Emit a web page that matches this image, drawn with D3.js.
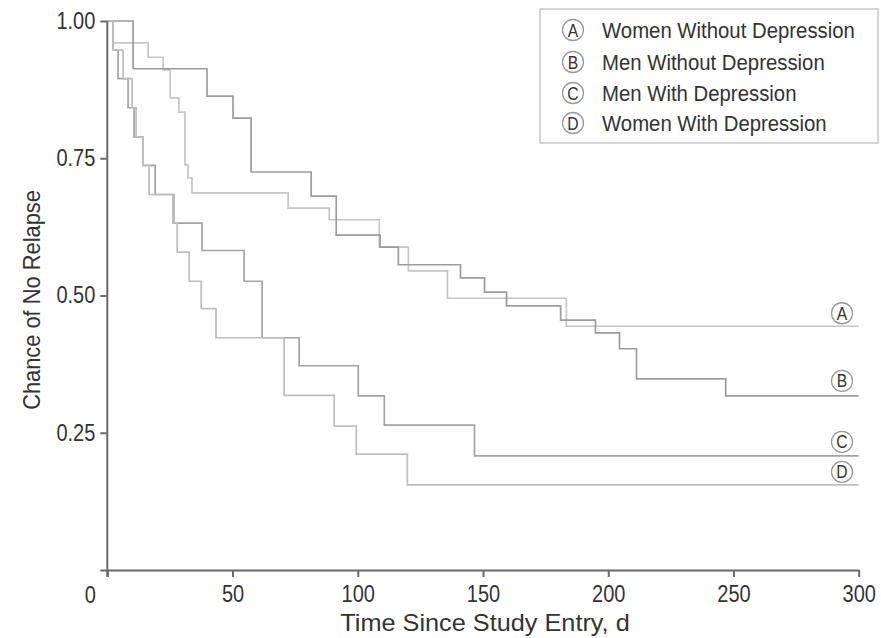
<!DOCTYPE html>
<html><head><meta charset="utf-8">
<script src="https://cdn.jsdelivr.net/npm/d3@7"></script>
<style>
html,body{margin:0;padding:0;background:#fff;}
svg{display:block;}
text{font-family:"Liberation Sans",Arial,sans-serif;fill:#333;}
</style></head>
<body>
<svg id="chart" width="881" height="638"></svg>
<script>
// Data (time in days, survival probability)
const seriesKeys = ["A", "B", "C", "D"];
const seriesNames = ["Women Without Depression", "Men Without Depression", "Men With Depression", "Women With Depression"];
const timesA = [0, 2.3, 16.3, 22.3, 25.1, 28.6, 31.0, 32.2, 33.8, 72.2, 88.6, 108.6, 120.2, 135.8, 183.3, 300];
const survA  = [1.00, 0.960, 0.934, 0.911, 0.860, 0.834, 0.738, 0.714, 0.687, 0.659, 0.638, 0.588, 0.545, 0.495, 0.444, 0.444];
const timesB = [0, 10.3, 39.8, 50.2, 57.4, 81.4, 91.4, 108.9, 116.2, 141.0, 150.6, 159.4, 181.0, 194.9, 204.5, 211.3, 246.9, 300];
const survB  = [1.00, 0.913, 0.863, 0.823, 0.725, 0.681, 0.610, 0.588, 0.556, 0.532, 0.506, 0.481, 0.455, 0.432, 0.403, 0.348, 0.317, 0.317];
const timesC = [0, 2.3, 4.3, 8.3, 10.7, 14.3, 19.1, 26.3, 37.8, 54.6, 61.8, 76.6, 100.2, 110.6, 146.6, 300];
const survC  = [1.00, 0.947, 0.895, 0.842, 0.789, 0.737, 0.684, 0.632, 0.582, 0.526, 0.423, 0.372, 0.317, 0.264, 0.208, 0.208];
const timesD = [0, 2.3, 6.3, 9.9, 11.5, 14.3, 16.7, 26.7, 27.9, 32.7, 37.5, 43.4, 70.6, 90.6, 99.4, 119.8, 300];
const survD  = [1.00, 0.947, 0.895, 0.842, 0.789, 0.737, 0.684, 0.632, 0.579, 0.526, 0.476, 0.423, 0.318, 0.262, 0.211, 0.155, 0.155];
const xTicks = [0, 50, 100, 150, 200, 250, 300];
const yTicks = [0, 0.25, 0.50, 0.75, 1.00];
const xTitle = "Time Since Study Entry, d";
const yTitle = "Chance of No Relapse";

const seriesTimes = [timesA, timesB, timesC, timesD];
const seriesSurv = [survA, survB, survC, survD];
const colors = ["#c6c6c6", "#9c9c9c", "#a4a4a4", "#bebebe"];

const svg = d3.select("#chart");
const x = d3.scaleLinear().domain([0, 300]).range([107.3, 858.7]);
const y = d3.scaleLinear().domain([0, 1]).range([570, 21]);

const SX = 0.87; // condensed look
function addText(g, px, py, str, size, sx, anchor, rot) {
  return g.append("text")
    .attr("transform", `translate(${px},${py})${rot ? ` rotate(${rot})` : ""} scale(${sx},1)`)
    .attr("text-anchor", anchor || "start")
    .attr("font-size", size)
    .text(str);
}

// curves
const line = d3.line().x(d => x(d[0])).y(d => y(d[1])).curve(d3.curveStepAfter);
seriesKeys.forEach((k, i) => {
  const pts = seriesTimes[i].map((t, j) => [t, seriesSurv[i][j]]);
  svg.append("path").datum(pts)
    .attr("d", line)
    .attr("fill", "none")
    .attr("stroke", colors[i])
    .attr("stroke-width", 1.7);
});

// axes
const axisColor = "#6a6a6a";
const gx = svg.append("g").attr("transform", `translate(0,${y(0)})`)
  .call(d3.axisBottom(x).tickValues(xTicks).tickSize(7).tickSizeOuter(0).tickPadding(9)
    .tickFormat(d => d === 0 ? "" : d3.format("d")(d)));
const gy = svg.append("g").attr("transform", `translate(${x(0)},0)`)
  .call(d3.axisLeft(y).tickValues(yTicks).tickSize(7).tickSizeOuter(0).tickPadding(5)
    .tickFormat(d => d === 0 ? "" : d3.format(".2f")(d)));
[gx, gy].forEach(g => {
  g.select(".domain").attr("stroke", axisColor).attr("stroke-width", 2);
  g.selectAll(".tick line").attr("stroke", axisColor).attr("stroke-width", 2);
  g.selectAll(".tick text").attr("font-size", 23).attr("fill", "#333")
    .style("font-family", '"Liberation Sans",Arial,sans-serif')
    .attr("transform", `scale(${SX},1)`);
});
gy.selectAll(".tick text").attr("x", -12 / SX);
// extend y axis line down to the x=0 tick
gy.select(".domain").attr("d", `M0,${y(1)}V${y(0) + 7}`);
// origin label
addText(svg, x(0) - 17, y(0) + 33, "0", 23, SX, "middle");

// axis titles
addText(svg, (x(0) + x(300)) / 2 + 2, 631, xTitle, 23, 1.1, "middle");
addText(svg, 40, 300, yTitle, 23, 0.95, "middle", -90);

// legend
const lg = svg.append("g");
lg.append("rect").attr("x", 540).attr("y", 9).attr("width", 338).attr("height", 134)
  .attr("fill", "#fff").attr("stroke", "#c8c8c8").attr("stroke-width", 1.5);
const rowY = [30, 62, 93, 123];
seriesKeys.forEach((k, i) => {
  lg.append("circle").attr("cx", 573).attr("cy", rowY[i]).attr("r", 10.5)
    .attr("fill", "#fff").attr("stroke", "#999").attr("stroke-width", 1.3);
  addText(lg, 573, rowY[i] + 6.5, k, 18, SX, "middle");
  addText(lg, 602, rowY[i] + 8, seriesNames[i], 23, 0.885, "start");
});

// end labels on curves
const endOffsets = [13, 15, 14, 13];
seriesKeys.forEach((k, i) => {
  const s = seriesSurv[i][seriesSurv[i].length - 1];
  const cy = y(s) - endOffsets[i];
  svg.append("circle").attr("cx", 842).attr("cy", cy).attr("r", 10.5)
    .attr("fill", "#fff").attr("stroke", "#999").attr("stroke-width", 1.3);
  addText(svg, 842, cy + 6.5, k, 18, SX, "middle");
});
</script>
</body></html>
